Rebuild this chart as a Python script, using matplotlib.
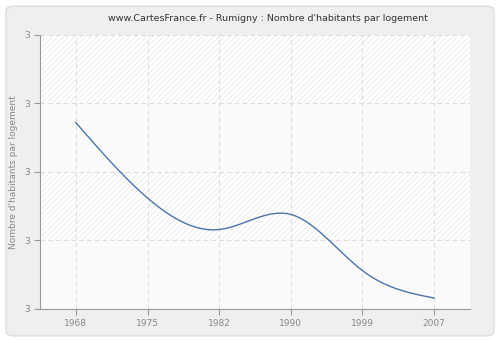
import numpy as np
import matplotlib
matplotlib.use("Agg")
import matplotlib.pyplot as plt
from matplotlib.patches import FancyBboxPatch

# Average number of inhabitants per dwelling, Rumigny
years = ["1968", "1975", "1982", "1990", "1999", "2007"]
values = [2.736, 2.681, 2.658, 2.669, 2.628, 2.608]
y_ticks = [2.60, 2.65, 2.70, 2.75, 2.80]

plt.rcParams['hatch.linewidth'] = 0.5


def natural_spline(x, y, n=300):
    x = np.asarray(x, float)
    y = np.asarray(y, float)
    k = len(x)
    h = np.diff(x)
    A = np.zeros((k, k))
    r = np.zeros(k)
    A[0, 0] = A[-1, -1] = 1
    for i in range(1, k - 1):
        A[i, i - 1] = h[i - 1]
        A[i, i] = 2 * (h[i - 1] + h[i])
        A[i, i + 1] = h[i]
        r[i] = 3 * ((y[i + 1] - y[i]) / h[i] - (y[i] - y[i - 1]) / h[i - 1])
    c = np.linalg.solve(A, r)
    xs = np.linspace(x[0], x[-1], n)
    ys = np.empty_like(xs)
    for j, xv in enumerate(xs):
        i = min(np.searchsorted(x, xv, side='right') - 1, k - 2)
        d = xv - x[i]
        b = (y[i + 1] - y[i]) / h[i] - h[i] * (2 * c[i] + c[i + 1]) / 3
        dd = (c[i + 1] - c[i]) / (3 * h[i])
        ys[j] = y[i] + b * d + c[i] * d ** 2 + dd * d ** 3
    return xs, ys


fig = plt.figure(figsize=(5, 3.4), dpi=100)
fig.patch.set_facecolor('white')
frame = FancyBboxPatch((0.012, 0.012), 0.976, 0.97, boxstyle="round,pad=0,rounding_size=0.015",
                       transform=fig.transFigure, facecolor='#efefef', edgecolor='#dedede',
                       linewidth=1, zorder=-10)
fig.patches.append(frame)

ax = fig.add_axes([0.08, 0.0912, 0.86, 0.806])
ax.set_facecolor('#fafafa')

x = np.arange(len(years))
ax.set_xlim(-0.5, len(years) - 0.5)
ax.set_ylim(y_ticks[0], y_ticks[-1])

# alternating bands: hatched / plain
for i in range(len(y_ticks) - 1):
    if i % 2 == 1:
        ax.axhspan(y_ticks[i], y_ticks[i + 1], facecolor='white', edgecolor='#e6e6e6',
                   hatch='//////', linewidth=0, zorder=0)

xs, ys = natural_spline(x, values)
ax.plot(xs, ys, color='#4a74ae', linewidth=1, zorder=3)

ax.set_xticks(x)
ax.set_xticklabels(years)
ax.set_yticks(y_ticks)
ax.yaxis.set_major_formatter(matplotlib.ticker.FormatStrFormatter('%.0f'))
ax.grid(True, color='#dcdcdc', linestyle=(0, (4, 3)), linewidth=0.8, zorder=1)
ax.set_axisbelow(True)

for s in ['top', 'right']:
    ax.spines[s].set_visible(False)
for s in ['left', 'bottom']:
    ax.spines[s].set_color('#999999')
ax.tick_params(colors='#999999', labelcolor='#888888', labelsize=6.5, length=4, width=0.8)

ax.set_ylabel("Nombre d'habitants par logement", color='#888888', fontsize=6.5)
fig.text(0.535, 0.945, "www.CartesFrance.fr - Rumigny : Nombre d'habitants par logement",
         ha='center', va='center', fontsize=6.8, color='#333333')

fig.savefig("out.png", dpi=100, facecolor=fig.get_facecolor())
